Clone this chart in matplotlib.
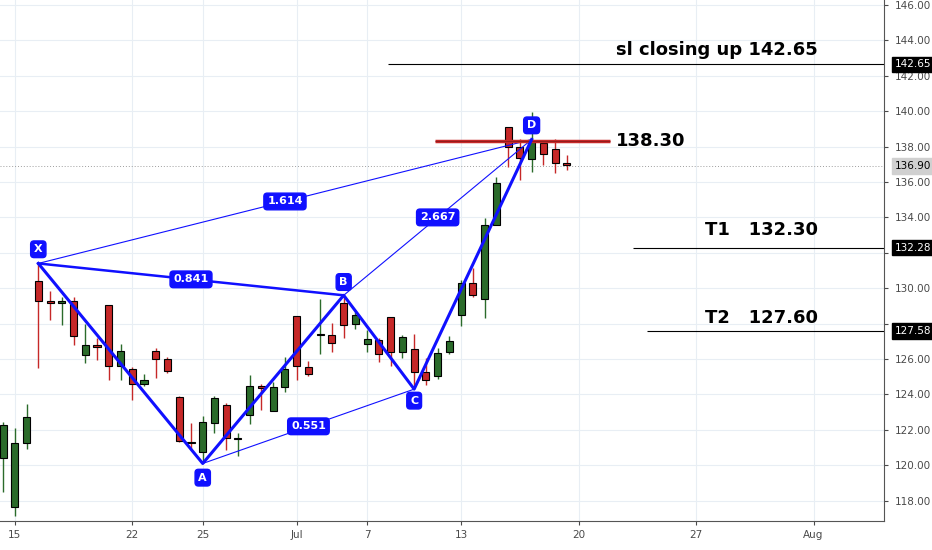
"""Gartley-style XABCD pattern drawn over candles, TradingView look."""
import numpy as np
import matplotlib.pyplot as plt

# candle data, one row per bar: open, high, low, close
opens = [120.40, 117.64, 121.25, 130.38, 129.25, 129.19, 129.29, 126.22, 126.80, 129.04,
         125.58, 125.43, 124.58, 126.46, 126.01, 123.88, 121.34, 120.74, 122.41, 123.41,
         121.48, 122.85, 124.49, 123.09, 124.41, 128.44, 125.54, 127.35, 127.37, 129.19,
         127.97, 126.86, 127.08, 128.40, 126.39, 126.58, 125.24, 125.02, 126.37, 128.50,
         130.29, 129.38, 133.58, 139.09, 138.00, 137.29, 138.22, 137.85, 137.10]
highs = [122.47, 122.13, 123.47, 131.42, 129.85, 129.53, 129.53, 127.99, 127.18, 129.04,
         126.86, 125.54, 125.16, 126.62, 126.09, 123.94, 122.41, 122.79, 123.92, 123.51,
         121.82, 125.11, 124.58, 124.73, 126.14, 128.44, 125.90, 129.38, 128.03, 129.63,
         128.68, 127.65, 127.18, 128.40, 127.37, 127.41, 126.05, 126.62, 127.31, 130.47,
         131.13, 133.96, 136.27, 139.09, 138.42, 139.98, 138.28, 138.42, 137.53]
lows = [118.47, 117.15, 120.91, 125.49, 128.21, 127.93, 126.80, 125.77, 125.92, 124.79,
        124.83, 123.70, 124.45, 124.92, 125.20, 121.29, 120.91, 120.12, 121.85, 120.87,
        120.55, 122.34, 123.13, 123.09, 124.11, 124.80, 125.05, 126.28, 126.42, 127.21,
        127.70, 126.42, 125.86, 125.58, 126.05, 124.36, 124.54, 124.88, 126.27, 127.88,
        129.50, 128.31, 133.58, 136.87, 136.12, 136.59, 136.97, 136.53, 136.68]
closes = [122.25, 121.25, 122.72, 129.25, 129.16, 129.29, 127.31, 126.80, 126.67, 125.62,
          126.45, 124.58, 124.83, 126.00, 125.33, 121.38, 121.25, 122.43, 123.79, 121.53,
          121.53, 124.49, 124.34, 124.41, 125.43, 125.58, 125.15, 127.39, 126.90, 127.93,
          128.50, 127.14, 126.28, 126.39, 127.24, 125.26, 124.83, 126.33, 127.04, 130.29,
          129.63, 133.58, 135.97, 138.00, 137.34, 138.28, 137.57, 137.10, 136.97]

tick_pos = [1, 11, 17, 25, 31, 39, 49, 59, 69]
tick_labels = ["15", "22", "25", "Jul", "7", "13", "20", "27", "Aug"]

# XABCD pivots (bar index, price)
pt_names = ["X", "A", "B", "C", "D"]
pt_x = [3, 17, 29, 35, 45]
pt_y = [131.4, 120.1, 129.6, 124.3, 138.4]
ratios = {("X", "B"): "0.841", ("A", "C"): "0.551", ("B", "D"): "2.667", ("X", "D"): "1.614"}

sl_level, t1_level, t2_level, d_level, last_price = 142.65, 132.30, 127.60, 138.30, 136.90

GREEN, RED, BLUE = "#2b6b2b", "#c62828", "#1010ff"

fig = plt.figure(figsize=(9.32, 5.5), dpi=100)
ax = fig.add_axes([0, 0.053, 0.9485, 0.947])

for i, (o, h, l, c) in enumerate(zip(opens, highs, lows, closes)):
    col = GREEN if c >= o else RED
    ax.vlines(i, l, h, color=col, lw=1, zorder=2)
    lo, hi = min(o, c), max(o, c)
    ax.bar(i, max(hi - lo, 0.06), bottom=lo, width=0.6, color=col,
           edgecolor="black", linewidth=0.8, zorder=3)

# pattern legs
ax.plot(pt_x, pt_y, color=BLUE, lw=2.2, zorder=5)
pts = dict(zip(pt_names, zip(pt_x, pt_y)))
for (a, b), txt in ratios.items():
    (x0, y0), (x1, y1) = pts[a], pts[b]
    lw = 1.8 if (a, b) == ("X", "B") else 0.8
    ax.plot([x0, x1], [y0, y1], color=BLUE, lw=lw, zorder=4)
    ax.text((x0 + x1) / 2, (y0 + y1) / 2, txt, color="white", fontsize=8,
            fontweight="bold", ha="center", va="center", zorder=6,
            bbox=dict(boxstyle="round,pad=0.3", fc=BLUE, ec=BLUE))
offsets = {"X": 0.8, "A": -0.8, "B": 0.75, "C": -0.65, "D": 0.8}
for n, x, y in zip(pt_names, pt_x, pt_y):
    ax.text(x, y + offsets[n], n, color="white", fontsize=8, fontweight="bold",
            ha="center", va="center", zorder=6,
            bbox=dict(boxstyle="round,pad=0.3", fc=BLUE, ec=BLUE))

# levels
ax.hlines(d_level, 36.8, 51.7, color=RED, lw=2.5, zorder=4)
ax.hlines(d_level, 36.8, 51.7, color="#8b1a1a", lw=0.6, zorder=4)
ax.text(52.2, d_level, "138.30", fontsize=13, fontweight="bold", va="center")
ax.hlines(sl_level, 32.8, 76, color="black", lw=0.8)
ax.text(52.2, sl_level + 0.8, "sl closing up 142.65", fontsize=13, fontweight="bold", va="center")
ax.hlines(t1_level, 53.6, 76, color="black", lw=0.8)
ax.text(59.8, t1_level + 1.0, "T1   132.30", fontsize=13, fontweight="bold", va="center")
ax.hlines(t2_level, 54.8, 76, color="black", lw=0.8)
ax.text(59.8, t2_level + 0.7, "T2   127.60", fontsize=13, fontweight="bold", va="center")
ax.axhline(last_price, color="#9e9e9e", lw=0.7, ls=(0, (1, 2)), zorder=1)

ax.set_xlim(-0.26, 75)
ax.set_ylim(116.86, 146.28)
ax.set_xticks(tick_pos)
ax.set_xticklabels(tick_labels)
yt = np.arange(118, 147, 2)
ax.set_yticks(yt)
# labels hidden behind the price tags are left blank
ax.set_yticklabels(["" if v in (128, 132) else "{:.2f}".format(v) for v in yt])
ax.yaxis.tick_right()
ax.tick_params(axis="both", labelsize=7.5, colors="#4a4a4a", length=3)
ax.tick_params(axis="y", pad=5)
ax.grid(True, color="#e8eef4", lw=0.8, zorder=0)
ax.set_axisbelow(True)
for s in ["top", "left"]:
    ax.spines[s].set_visible(False)
ax.spines["right"].set_color("#555555")
ax.spines["bottom"].set_color("#555555")

# price tags on the right axis
tags = [(142.65, "black", "white"), (132.28, "black", "white"),
        (127.58, "black", "white"), (136.90, "#d0d0d0", "black")]
for val, fc, tc in tags:
    ax.text(1.012, val, "{:.2f}".format(val), transform=ax.get_yaxis_transform(),
            fontsize=7.5, color=tc, ha="left", va="center", clip_on=False,
            bbox=dict(boxstyle="square,pad=0.25", fc=fc, ec=fc))

fig.savefig("out.png", dpi=100)
